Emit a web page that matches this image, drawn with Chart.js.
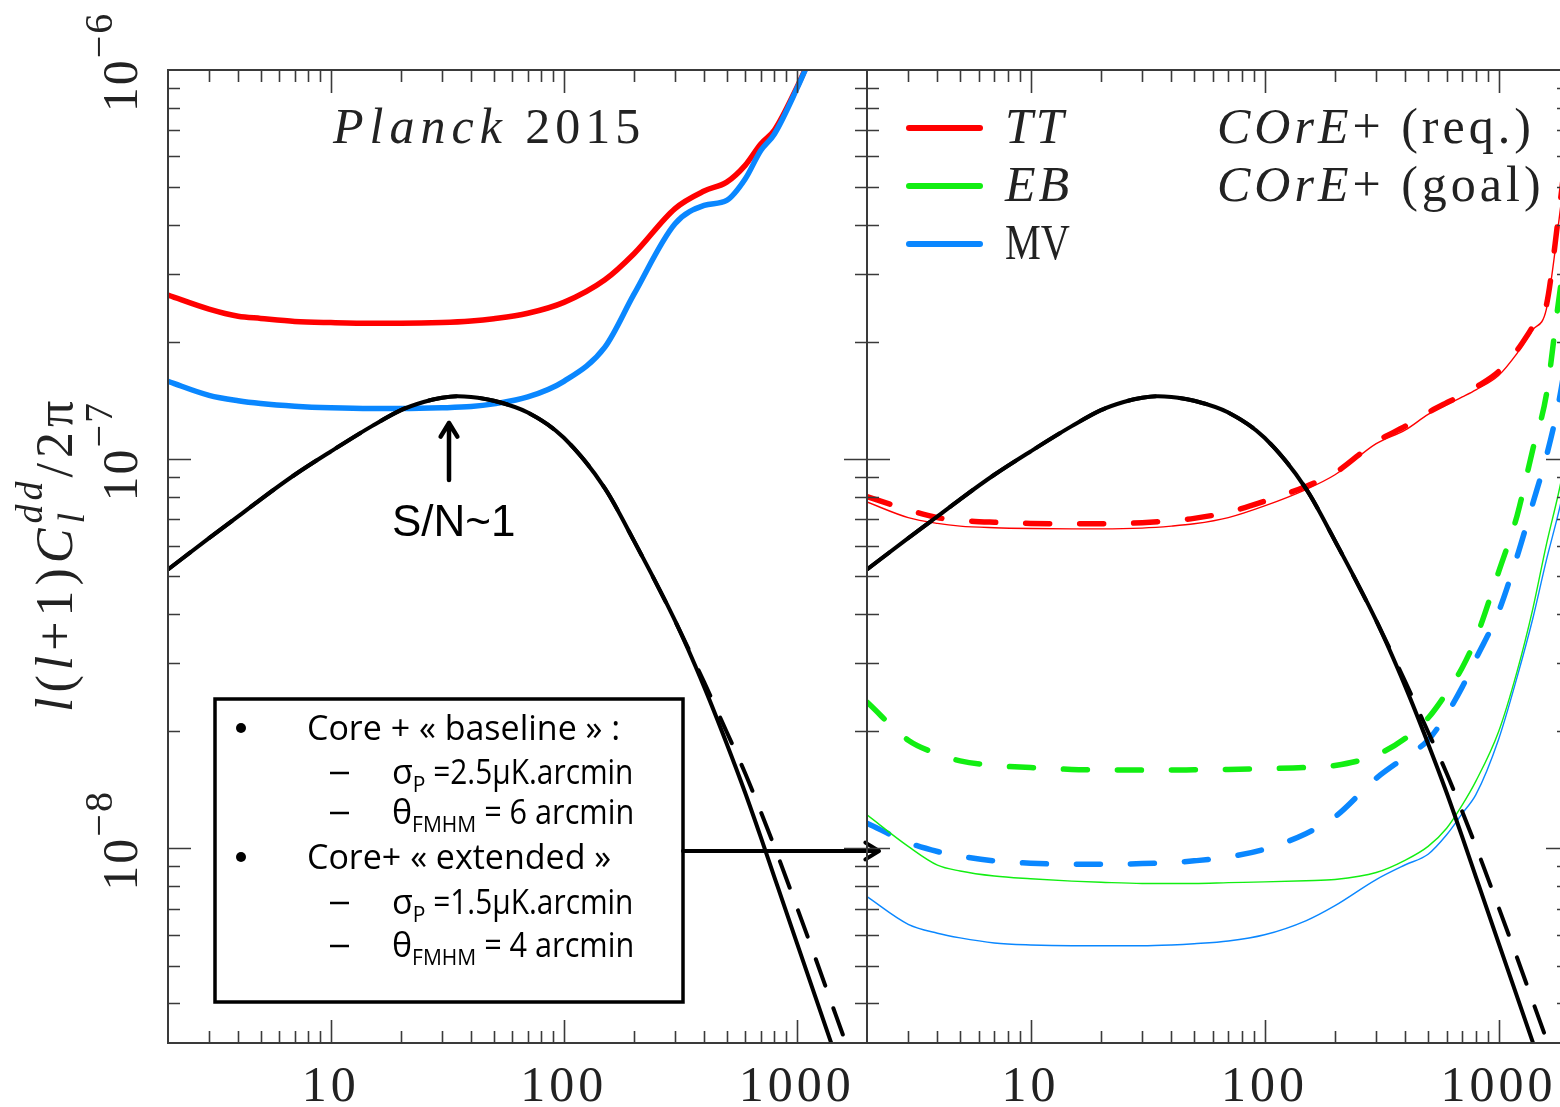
<!DOCTYPE html>
<html>
<head>
<meta charset="utf-8">
<script src="https://cdn.jsdelivr.net/npm/chart.js@4.4.1/dist/chart.umd.min.js"></script>
<style>
  html, body { margin: 0; padding: 0; background: #fff; overflow: hidden; }
  #wrap { position: relative; width: 1560px; height: 1107px; overflow: hidden; background: #fff; }
  #wrap canvas { position: absolute; left: 0; top: 0; }
</style>
</head>
<body>
<div id="wrap">
  <canvas id="planck" width="1560" height="1107"></canvas>
  <canvas id="core" width="1580" height="1107"></canvas>
</div>
<script>
// multipole grids
const ELL_PLANCK = [2, 3, 4, 5, 7, 10, 15, 20, 30, 40, 50, 70, 100, 150, 200, 300, 400, 500, 600, 700, 800, 1000, 1200];
const ELL_SIGNAL = [2, 3, 4, 5, 7, 10, 15, 20, 25, 30, 35, 40, 50, 70, 100, 150, 200, 300, 400, 500, 600, 700, 800, 1000, 1200, 1400, 1600, 1800];
const ELL = [2, 3, 4, 5, 7, 10, 15, 20, 30, 40, 50, 70, 100, 150, 200, 300, 400, 500, 600, 700, 800, 1000, 1200, 1400, 1600, 1800, 2000];

// deflection power spectrum l(l+1)C_l^dd/2pi (solid) and alternative cosmology (dashed)
const SIGNAL = [5.21e-8, 6.266e-8, 7.129e-8, 7.889e-8, 9.120e-8, 1.047e-7, 1.216e-7, 1.337e-7, 1.403e-7, 1.439e-7, 1.452e-7, 1.445e-7, 1.413e-7,
  1.318e-7, 1.135e-7, 8.414e-8, 6.166e-8, 3.846e-8, 2.600e-8, 1.858e-8, 1.390e-8, 1.069e-8, 8.453e-9, 5.715e-9, 4.159e-9, 3.177e-9, 2.512e-9, 2.046e-9];
const SIGNAL_ALT = [5.21e-8, 6.266e-8, 7.129e-8, 7.889e-8, 9.120e-8, 1.047e-7, 1.216e-7, 1.337e-7, 1.403e-7, 1.439e-7, 1.452e-7, 1.445e-7, 1.413e-7,
  1.318e-7, 1.135e-7, 8.414e-8, 6.166e-8, 3.846e-8, 2.673e-8, 1.991e-8, 1.560e-8, 1.242e-8, 1.012e-8, 7.063e-9, 5.236e-9, 4.046e-9, 3.236e-9, 2.636e-9];

// Planck 2015 reconstruction noise
const PLANCK_TT = [2.64e-7, 2.43e-7, 2.33e-7, 2.30e-7, 2.26e-7, 2.244e-7, 2.234e-7, 2.234e-7, 2.244e-7, 2.265e-7, 2.296e-7, 2.371e-7, 2.529e-7,
  2.891e-7, 3.373e-7, 4.406e-7, 4.887e-7, 5.152e-7, 5.689e-7, 6.457e-7, 6.998e-7, 9.02e-7, 1.148e-6];
const PLANCK_MV = [1.585e-7, 1.459e-7, 1.413e-7, 1.390e-7, 1.368e-7, 1.355e-7, 1.349e-7, 1.349e-7, 1.355e-7, 1.365e-7, 1.387e-7, 1.445e-7, 1.585e-7,
  1.941e-7, 2.655e-7, 4.027e-7, 4.487e-7, 4.624e-7, 5.248e-7, 6.209e-7, 6.839e-7, 8.954e-7, 1.148e-6];

// COrE+ reconstruction noise, requirement (dashed) and goal (thin)
const TT_REQ = [8.017e-8, 7.413e-8, 7.079e-8, 6.966e-8, 6.887e-8, 6.839e-8, 6.823e-8, 6.823e-8, 6.871e-8, 6.950e-8, 7.047e-8, 7.311e-8, 7.798e-8,
  8.511e-8, 9.226e-8, 1.109e-7, 1.216e-7, 1.318e-7, 1.396e-7, 1.462e-7, 1.531e-7, 1.679e-7, 1.905e-7, 2.188e-7, 2.483e-7, 4.169e-7, 7.079e-7];
const TT_GOAL = [7.762e-8, 7.079e-8, 6.839e-8, 6.730e-8, 6.668e-8, 6.637e-8, 6.622e-8, 6.622e-8, 6.653e-8, 6.730e-8, 6.823e-8, 7.079e-8, 7.586e-8,
  8.356e-8, 9.120e-8, 1.096e-7, 1.189e-7, 1.303e-7, 1.380e-7, 1.445e-7, 1.507e-7, 1.641e-7, 1.871e-7, 2.148e-7, 2.427e-7, 3.981e-7, 6.607e-7];
const EB_REQ = [2.377e-8, 1.897e-8, 1.750e-8, 1.679e-8, 1.633e-8, 1.614e-8, 1.596e-8, 1.592e-8, 1.589e-8, 1.589e-8, 1.592e-8, 1.596e-8, 1.603e-8,
  1.614e-8, 1.633e-8, 1.738e-8, 1.919e-8, 2.163e-8, 2.512e-8, 2.917e-8, 3.467e-8, 5.129e-8, 7.161e-8, 1.059e-7, 1.462e-7, 2.512e-7, 3.981e-7];
const EB_GOAL = [1.219e-8, 1.012e-8, 9.057e-9, 8.750e-9, 8.492e-9, 8.356e-9, 8.241e-9, 8.185e-9, 8.128e-9, 8.128e-9, 8.128e-9, 8.166e-9, 8.204e-9,
  8.260e-9, 8.318e-9, 8.670e-9, 9.333e-9, 1.012e-8, 1.127e-8, 1.294e-8, 1.489e-8, 1.995e-8, 2.851e-8, 4.121e-8, 6.026e-8, 8.128e-8, 1.096e-7];
const MV_REQ = [1.161e-8, 1.035e-8, 9.817e-9, 9.550e-9, 9.290e-9, 9.162e-9, 9.099e-9, 9.099e-9, 9.141e-9, 9.204e-9, 9.290e-9, 9.506e-9, 9.954e-9,
  1.091e-8, 1.205e-8, 1.514e-8, 1.718e-8, 1.897e-8, 2.213e-8, 2.600e-8, 3.069e-8, 4.055e-8, 5.623e-8, 7.691e-8, 1.016e-7, 1.380e-7, 1.995e-7];
const MV_GOAL = [7.516e-9, 6.383e-9, 6.053e-9, 5.888e-9, 5.715e-9, 5.649e-9, 5.623e-9, 5.623e-9, 5.623e-9, 5.649e-9, 5.689e-9, 5.781e-9, 5.998e-9,
  6.516e-9, 7.129e-9, 8.318e-9, 9.078e-9, 9.661e-9, 1.084e-8, 1.230e-8, 1.374e-8, 1.905e-8, 2.754e-8, 3.890e-8, 5.495e-8, 7.244e-8, 9.550e-8];

// axes
const X_MIN = 2, X_MAX = 2000;
const Y_MIN = 3.1623e-9, Y_MAX = 1e-6;
const X_TICK_VALUES = [10, 100, 1000];
const X_TICK_LABELS = ['10', '100', '1000'];
const Y_TICK_VALUES = [1e-6, 1e-7, 1e-8];
const Y_TICK_EXPONENTS = ['\u22126', '\u22127', '\u22128'];

const NOTE_LINES = [
  { bullet: true, parts: ['Core + \u00ab baseline \u00bb :'] },
  { parts: ['\u03c3', 'P', ' =2.5\u00b5K.arcmin'] },
  { parts: ['\u03b8', 'FMHM', ' = 6 arcmin'] },
  { bullet: true, parts: ['Core+ \u00ab extended \u00bb'] },
  { parts: ['\u03c3', 'P', ' =1.5\u00b5K.arcmin'] },
  { parts: ['\u03b8', 'FMHM', ' = 4 arcmin'] },
];

const RED = '#ff0000', GREEN = '#12ee12', BLUE = '#0a87ff', BLACK = '#000000';
const AXIS = '#3a3a3a';
const INK = '#222';
const SERIF = '"Liberation Serif", "DejaVu Serif", serif';
const SANS = '"Open Sans", "Noto Sans", sans-serif';
const serif = (size, style) => `${style || ''} ${size}px ${SERIF}`.trim();
const sans = (size) => `${size}px ${SANS}`;

function series(ell, vals, color, width, dash) {
  return {
    data: ell.map((l, i) => ({ x: l, y: vals[i] })),
    borderColor: color,
    borderWidth: width,
    borderDash: dash || [],
    borderCapStyle: dash ? 'round' : 'butt',
    pointRadius: 0,
    fill: false,
    cubicInterpolationMode: 'monotone',
    clip: 0,
  };
}

// text made of runs with their own font / baseline shift
function layoutRich(ctx, parts) {
  let cursor = 0, lastStart = 0;
  const placed = [];
  for (const p of parts) {
    ctx.font = p.f;
    ctx.letterSpacing = (p.ls || 0) + 'px';
    let w = ctx.measureText(p.t).width;
    if (p.mw) w = Math.min(w, p.mw);
    const start = p.stack ? lastStart : cursor;
    placed.push({ p, x: start });
    lastStart = start;
    cursor = Math.max(p.stack ? cursor : start, start + w);
  }
  return { placed, width: cursor };
}

function drawRich(ctx, x, y, parts, align, angle) {
  ctx.save();
  ctx.translate(x, y);
  if (angle) ctx.rotate(angle);
  const { placed, width } = layoutRich(ctx, parts);
  const off = align === 'center' ? -width / 2 : align === 'right' ? -width : 0;
  ctx.textAlign = 'left';
  ctx.textBaseline = 'alphabetic';
  for (const { p, x: px } of placed) {
    ctx.font = p.f;
    ctx.letterSpacing = (p.ls || 0) + 'px';
    ctx.fillStyle = p.c || INK;
    if (p.mw) ctx.fillText(p.t, off + px, p.dy || 0, p.mw);
    else ctx.fillText(p.t, off + px, p.dy || 0);
  }
  ctx.restore();
}

function arrow(ctx, x0, y0, x1, y1, head, lw) {
  const ang = Math.atan2(y1 - y0, x1 - x0);
  ctx.save();
  ctx.strokeStyle = '#000';
  ctx.lineWidth = lw;
  ctx.lineCap = 'round';
  ctx.lineJoin = 'round';
  ctx.beginPath();
  ctx.moveTo(x0, y0);
  ctx.lineTo(x1, y1);
  ctx.moveTo(x1 - head * Math.cos(ang - 0.55), y1 - head * Math.sin(ang - 0.55));
  ctx.lineTo(x1, y1);
  ctx.lineTo(x1 - head * Math.cos(ang + 0.55), y1 - head * Math.sin(ang + 0.55));
  ctx.stroke();
  ctx.restore();
}

// box with inward ticks on all four sides
const framePlugin = {
  id: 'frame',
  afterDatasetsDraw(chart) {
    const { ctx, chartArea: a } = chart;
    const { x, y } = chart.scales;
    ctx.save();
    ctx.strokeStyle = AXIS;
    ctx.lineWidth = 1.6;
    ctx.beginPath();
    for (let e = 0; e <= 3; e++) {
      for (let m = 1; m <= 9; m++) {
        const v = m * Math.pow(10, e);
        if (v <= X_MIN || v >= X_MAX) continue;
        const px = Math.round(x.getPixelForValue(v)) + 0.5;
        const len = m === 1 ? 23 : 12;
        ctx.moveTo(px, a.bottom); ctx.lineTo(px, a.bottom - len);
        ctx.moveTo(px, a.top); ctx.lineTo(px, a.top + len);
      }
    }
    for (let e = -9; e <= -7; e++) {
      for (let m = 1; m <= 9; m++) {
        const v = m * Math.pow(10, e);
        if (v <= Y_MIN * 1.0001 || v >= Y_MAX * 0.9999) continue;
        const py = Math.round(y.getPixelForValue(v)) + 0.5;
        const len = m === 1 ? 23 : 12;
        ctx.moveTo(a.left, py); ctx.lineTo(a.left + len, py);
        ctx.moveTo(a.right, py); ctx.lineTo(a.right - len, py);
      }
    }
    ctx.stroke();
    ctx.lineWidth = 2;
    ctx.strokeRect(a.left, a.top, a.right - a.left, a.bottom - a.top);
    ctx.restore();
  }
};

function drawXLabels(chart) {
  const { ctx } = chart;
  const x = chart.scales.x;
  X_TICK_VALUES.forEach((v, i) => {
    drawRich(ctx, x.getPixelForValue(v), 1101, [{ t: X_TICK_LABELS[i], f: serif(50), ls: 4 }], 'center');
  });
}

const planckDecor = {
  id: 'planckDecor',
  afterDraw(chart) {
    const { ctx } = chart;
    const y = chart.scales.y;

    // y tick labels, written sideways
    Y_TICK_VALUES.forEach((v, i) => {
      drawRich(ctx, 137, y.getPixelForValue(v) - 8, [
        { t: '10', f: serif(50), ls: 2 },
        { t: Y_TICK_EXPONENTS[i], f: serif(40), dy: -25, ls: 2 },
      ], 'center', -Math.PI / 2);
    });

    // y axis title
    drawRich(ctx, 72, 712, [
      { t: 'l', f: serif(52, 'italic'), ls: 5 },
      { t: '(', f: serif(52), ls: 5 },
      { t: 'l', f: serif(52, 'italic'), ls: 5 },
      { t: '+', f: serif(52), ls: 5 },
      { t: '1', f: serif(52), ls: 5 },
      { t: ')', f: serif(52), ls: 5 },
      { t: 'C', f: serif(52, 'italic'), ls: 5 },
      { t: 'l', f: serif(38, 'italic'), dy: 12 },
      { t: 'dd', f: serif(38, 'italic'), dy: -30, stack: true, ls: 4 },
      { t: '/', f: serif(52), ls: 5 },
      { t: '2', f: serif(52), ls: 5 },
      { t: '\u03c0', f: serif(52), ls: 5 },
    ], 'left', -Math.PI / 2);

    drawXLabels(chart);

    drawRich(ctx, 333, 143, [
      { t: 'Planck', f: serif(50, 'italic'), ls: 6 },
      { t: ' 2015', f: serif(50), ls: 5 },
    ]);

    // S/N marker
    arrow(ctx, 449, 480, 449, 423, 16, 4.5);
    ctx.save();
    ctx.fillStyle = '#000';
    ctx.font = '44px "Liberation Sans", Arial, sans-serif';
    ctx.fillText('S/N~1', 392, 536);
    ctx.restore();

    // configuration notes
    ctx.save();
    ctx.fillStyle = '#fff';
    ctx.fillRect(215, 699, 468, 303);
    ctx.strokeStyle = '#000';
    ctx.lineWidth = 3.5;
    ctx.strokeRect(215, 699, 468, 303);
    const baselines = [740, 784, 824, 869, 914, 957];
    NOTE_LINES.forEach((line, i) => {
      const by = baselines[i];
      ctx.fillStyle = '#000';
      ctx.strokeStyle = '#000';
      if (line.bullet) {
        ctx.beginPath();
        ctx.arc(241, by - 12, 5, 0, Math.PI * 2);
        ctx.fill();
        drawRich(ctx, 307, by, [{ t: line.parts[0], f: sans(34), c: '#000' }]);
      } else {
        ctx.lineWidth = 2.5;
        ctx.beginPath();
        ctx.moveTo(330, by - 11);
        ctx.lineTo(349, by - 11);
        ctx.stroke();
        drawRich(ctx, 392, by, [
          { t: line.parts[0], f: sans(34), c: '#000' },
          { t: line.parts[1], f: sans(21), dy: 8, c: '#000' },
          { t: line.parts[2], f: sans(34), c: '#000', mw: 158 + (line.parts[1].length > 1 ? 0 : 50) },
        ]);
      }
    });
    ctx.restore();

    arrow(ctx, 683, 851, 879, 851, 16, 4);
  }
};

const coreDecor = {
  id: 'coreDecor',
  afterDraw(chart) {
    const { ctx } = chart;
    drawXLabels(chart);

    // legend
    const rows = [
      { c: RED, y: 128, label: [{ t: 'TT', f: serif(50, 'italic'), ls: 3 }] },
      { c: GREEN, y: 186, label: [{ t: 'EB', f: serif(50, 'italic'), ls: 3 }] },
      { c: BLUE, y: 244, label: [{ t: 'MV', f: serif(50), mw: 65 }] },
    ];
    ctx.save();
    ctx.lineWidth = 6;
    ctx.lineCap = 'round';
    rows.forEach(r => {
      ctx.strokeStyle = r.c;
      ctx.beginPath();
      ctx.moveTo(909, r.y);
      ctx.lineTo(980, r.y);
      ctx.stroke();
      drawRich(ctx, 1005, r.y + 15, r.label);
    });
    ctx.restore();

    drawRich(ctx, 1217, 143, [
      { t: 'COrE', f: serif(50, 'italic'), ls: 4 },
      { t: '+', f: serif(50), ls: 4 },
      { t: ' (req.)', f: serif(50), ls: 4 },
    ]);
    drawRich(ctx, 1217, 201, [
      { t: 'COrE', f: serif(50, 'italic'), ls: 4 },
      { t: '+', f: serif(50), ls: 4 },
      { t: ' (goal)', f: serif(50), ls: 4 },
    ]);
  }
};

function options(padding) {
  return {
    responsive: false,
    animation: false,
    devicePixelRatio: 1,
    events: [],
    layout: { padding },
    plugins: { legend: { display: false }, tooltip: { enabled: false } },
    scales: {
      x: { type: 'logarithmic', min: X_MIN, max: X_MAX, display: false },
      y: { type: 'logarithmic', min: Y_MIN, max: Y_MAX, display: false },
    },
  };
}

const DASH = [24, 30];
const DASH_BLACK = [28, 24];

new Chart(document.getElementById('planck'), {
  type: 'line',
  data: {
    datasets: [
      series(ELL_SIGNAL, SIGNAL, BLACK, 4),
      series(ELL_SIGNAL, SIGNAL_ALT, BLACK, 4, DASH_BLACK),
      series(ELL_PLANCK, PLANCK_MV, BLUE, 5.5),
      series(ELL_PLANCK, PLANCK_TT, RED, 5.5),
    ]
  },
  options: options({ left: 168, right: 693, top: 70, bottom: 64 }),
  plugins: [framePlugin, planckDecor],
});

new Chart(document.getElementById('core'), {
  type: 'line',
  data: {
    datasets: [
      series(ELL_SIGNAL, SIGNAL, BLACK, 4),
      series(ELL_SIGNAL, SIGNAL_ALT, BLACK, 4, DASH_BLACK),
      series(ELL, TT_REQ, RED, 5.5, DASH),
      series(ELL, TT_GOAL, RED, 1.4),
      series(ELL, EB_REQ, GREEN, 5.5, DASH),
      series(ELL, EB_GOAL, GREEN, 1.4),
      series(ELL, MV_REQ, BLUE, 5.5, DASH),
      series(ELL, MV_GOAL, BLUE, 1.4),
    ]
  },
  options: options({ left: 867, right: 11, top: 70, bottom: 64 }),
  plugins: [framePlugin, coreDecor],
});
</script>
</body>
</html>
